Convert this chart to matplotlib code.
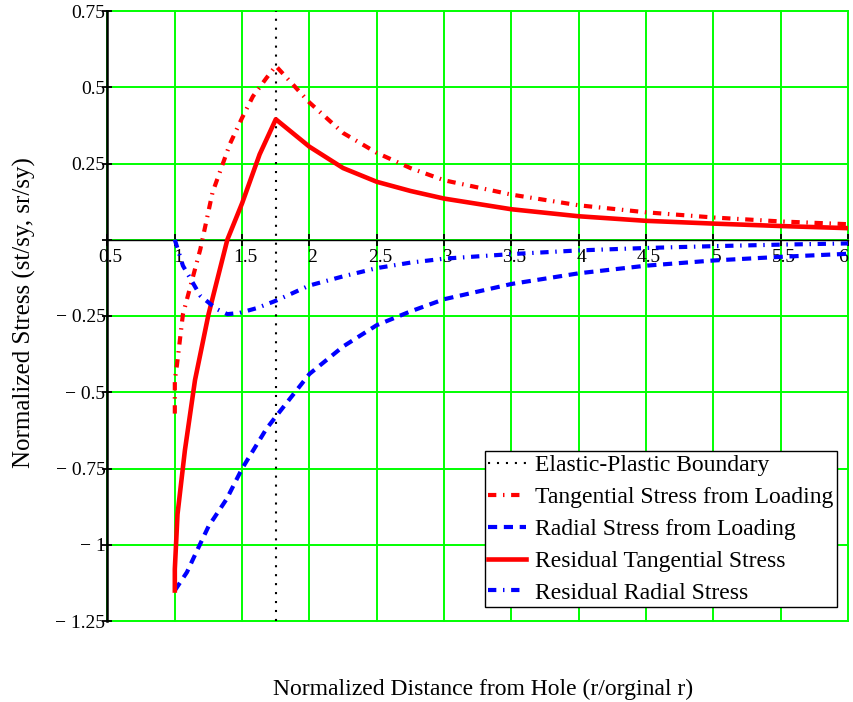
import matplotlib
matplotlib.use("Agg")
import matplotlib.pyplot as plt
import matplotlib.transforms as mtransforms
from matplotlib.lines import Line2D

# Elastic-plastic boundary (normalized radius)
boundary_r = 1.75

# Tangential stress from loading
load_t_r = [1.0, 1.0, 1.016, 1.06, 1.19, 1.28, 1.41, 1.5, 1.58, 1.68, 1.75,
            2.0, 2.25, 2.5, 2.75, 3.0, 3.5, 4.0, 4.5, 5.0, 5.5, 6.0]
load_t_s = [-0.57, -0.46, -0.41, -0.245, -0.03, 0.155, 0.315, 0.40, 0.47, 0.53, 0.57,
            0.45, 0.35, 0.285, 0.235, 0.195, 0.148, 0.113, 0.09, 0.073, 0.06, 0.051]

# Radial stress from loading
load_r_r = [1.0, 1.09, 1.164, 1.25, 1.385, 1.5, 1.68, 1.75,
            2.0, 2.25, 2.5, 2.75, 3.0, 3.5, 4.0, 4.5, 5.0, 5.5, 6.0]
load_r_s = [-1.15, -1.09, -1.02, -0.94, -0.85, -0.75, -0.62, -0.58,
            -0.44, -0.35, -0.28, -0.235, -0.195, -0.145, -0.11, -0.085, -0.068, -0.056, -0.046]

# Residual tangential stress
res_t_r = [1.0, 1.0, 1.02, 1.075, 1.15, 1.25, 1.39, 1.5, 1.63, 1.75,
           2.0, 2.25, 2.5, 2.75, 3.0, 3.5, 4.0, 4.5, 5.0, 5.5, 6.0]
res_t_s = [-1.15, -1.08, -0.90, -0.69, -0.46, -0.245, 0.0, 0.12, 0.28, 0.395,
           0.305, 0.235, 0.19, 0.16, 0.135, 0.10, 0.077, 0.062, 0.053, 0.045, 0.038]

# Residual radial stress
res_r_r = [1.0, 1.06, 1.19, 1.31, 1.39, 1.48, 1.61, 1.75,
           2.0, 2.25, 2.5, 2.75, 3.0, 3.5, 4.0, 4.5, 5.0, 5.5, 6.0]
res_r_s = [0.0, -0.085, -0.184, -0.227, -0.244, -0.24, -0.224, -0.2,
           -0.15, -0.12, -0.093, -0.075, -0.062, -0.047, -0.035, -0.027, -0.021, -0.016, -0.012]

x_ticks = [0.5, 1.0, 1.5, 2.0, 2.5, 3.0, 3.5, 4.0, 4.5, 5.0, 5.5, 6.0]
x_tick_labels = ["0.5", "1", "1.5", "2", "2.5", "3", "3.5", "4", "4.5", "5", "5.5", "6"]
y_ticks = [-1.25, -1.0, -0.75, -0.5, -0.25, 0.0, 0.25, 0.5, 0.75]
y_tick_labels = ["\u2212 1.25", "\u2212 1", "\u2212 0.75", "\u2212 0.5", "\u2212 0.25", "",
                 "0.25", "0.5", "0.75"]

series_labels = ["Elastic-Plastic Boundary", "Tangential Stress from Loading",
                 "Radial Stress from Loading", "Residual Tangential Stress",
                 "Residual Radial Stress"]

serif = ["Liberation Serif", "DejaVu Serif"]
plt.rcParams["font.family"] = serif

fig = plt.figure(figsize=(8.54, 7.02), dpi=100)
ax = fig.add_axes([107.5 / 854, 1 - 621 / 702, (848 - 107.5) / 854, (621 - 11) / 702])
ax.set_xlim(0.5, 6.0)
ax.set_ylim(-1.25, 0.75)

green = "#00ff00"
ax.grid(True, color=green, lw=1.4)
ax.set_axisbelow(True)

red = "#ff0000"
blue = "#0000ff"
dashdot = (0, (2.0, 1.6, 0.35, 1.6))
dashed = (0, (2.2, 1.6))
dotted = (0, (1, 3.3))

ax.axvline(boundary_r, color="black", lw=1.5, ls=dotted, zorder=3)
ax.plot(load_t_r, load_t_s, color=red, lw=3.0, ls=dashdot, zorder=3)
ax.plot(load_r_r, load_r_s, color=blue, lw=3.0, ls=dashed, zorder=3)
ax.plot(res_t_r, res_t_s, color=red, lw=3.3, ls="-", zorder=3)
ax.plot(res_r_r, res_r_s, color=blue, lw=3.0, ls=dashdot, zorder=3)

# axes: left border and a horizontal axis through zero
for s in ("top", "right"):
    ax.spines[s].set_visible(False)
ax.spines["left"].set_linewidth(1.8)
ax.spines["bottom"].set_position(("data", 0))
ax.spines["bottom"].set_linewidth(1.0)

ax.set_xticks(x_ticks)
ax.set_xticklabels(x_tick_labels)
ax.set_yticks(y_ticks)
ax.set_yticklabels(y_tick_labels)
ax.tick_params(axis="x", direction="inout", length=8, width=1.3, pad=3, labelsize=14)
ax.tick_params(axis="y", direction="inout", length=7, width=1.3, pad=-2, labelsize=14)

# nudge x tick labels slightly right of their ticks (last one stays inside the figure)
shift = mtransforms.ScaledTranslation(3 / 100, 0, fig.dpi_scale_trans)
for lbl in ax.get_xticklabels()[:-1]:
    lbl.set_transform(lbl.get_transform() + shift)
ax.get_xticklabels()[-1].set_horizontalalignment("right")

for gl in ax.get_xgridlines() + ax.get_ygridlines():
    gl.set_clip_on(False)

ax.set_xlabel("Normalized Distance from Hole (r/orginal r)", fontsize=17, labelpad=0)
ax.xaxis.set_label_coords(0.507, -0.095)
ax.set_ylabel("Normalized Stress (st/sy, sr/sy)", fontsize=18)
ax.yaxis.set_label_coords(-0.096, 0.506)

handles = [
    Line2D([], [], color="black", lw=1.5, ls=dotted),
    Line2D([], [], color=red, lw=3.0, ls=dashdot),
    Line2D([], [], color=blue, lw=3.0, ls=dashed),
    Line2D([], [], color=red, lw=3.3, ls="-"),
    Line2D([], [], color=blue, lw=3.0, ls=dashdot),
]
leg = ax.legend(handles, series_labels, loc="lower right",
                bbox_to_anchor=(837 / 854, 1 - 607 / 702), bbox_transform=fig.transFigure,
                borderaxespad=0, fancybox=False, framealpha=1, edgecolor="black",
                prop={"family": serif, "size": 17}, handlelength=1.6, handletextpad=0.4,
                labelspacing=0.44, borderpad=0.14)
leg.get_frame().set_linewidth(1.0)

fig.savefig("out.png", dpi=100)
